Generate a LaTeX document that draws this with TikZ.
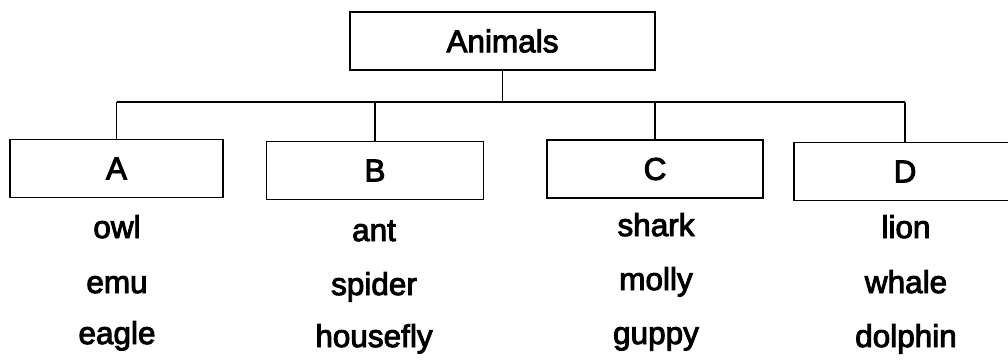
\documentclass[tikz,border=0pt]{standalone}
\usepackage{fontspec}
\setmainfont{Liberation Sans}
\newfontfamily\labelfont{Liberation Sans}[FakeBold=3]
\begin{document}
\begin{tikzpicture}[x=1pt,y=-1pt,
  catbox/.style={draw, line width=1.4pt, inner sep=0pt, minimum height=58pt,
    font=\labelfont\fontsize{31.5}{36}\selectfont},
  word/.style={anchor=base, inner sep=0pt, font=\labelfont\fontsize{31.5}{36}\selectfont},
  link/.style={line width=1.4pt}]
\useasboundingbox (0,0) rectangle (1008,359);
\node[catbox, minimum width=305pt] (animals) at (502.5,41) {Animals};
\node[catbox, minimum width=213pt] (A) at (116.5,168.5) {A};
\node[catbox, minimum width=217pt] (B) at (375,170.5) {B};
\node[catbox, minimum width=216pt] (C) at (655,169) {C};
\node[catbox, minimum width=222pt] (D) at (905,171.5) {D};
\coordinate (busL) at (116.5,102);
\coordinate (busR) at (905,102);
\draw[link] (busL) -- (busR);
\draw[link] (animals.south) -- (animals.south |- busL);
\foreach \n in {A,B,C,D} \draw[link] (\n.north) -- (\n.north |- busL);
\node[word] (a1) at (117,238) {owl};
\node[word] (a2) at (117,293) {emu};
\node[word] (a3) at (117,344) {eagle};
\node[word] (b1) at (374,241) {ant};
\node[word] (b2) at (374,295) {spider};
\node[word] (b3) at (374,347) {housefly};
\node[word] (c1) at (656,236) {shark};
\node[word] (c2) at (656,290) {molly};
\node[word] (c3) at (656,344) {guppy};
\node[word] (d1) at (906,238) {lion};
\node[word] (d2) at (906,293) {whale};
\node[word] (d3) at (906,347) {dolphin};
\end{tikzpicture}
\end{document}
